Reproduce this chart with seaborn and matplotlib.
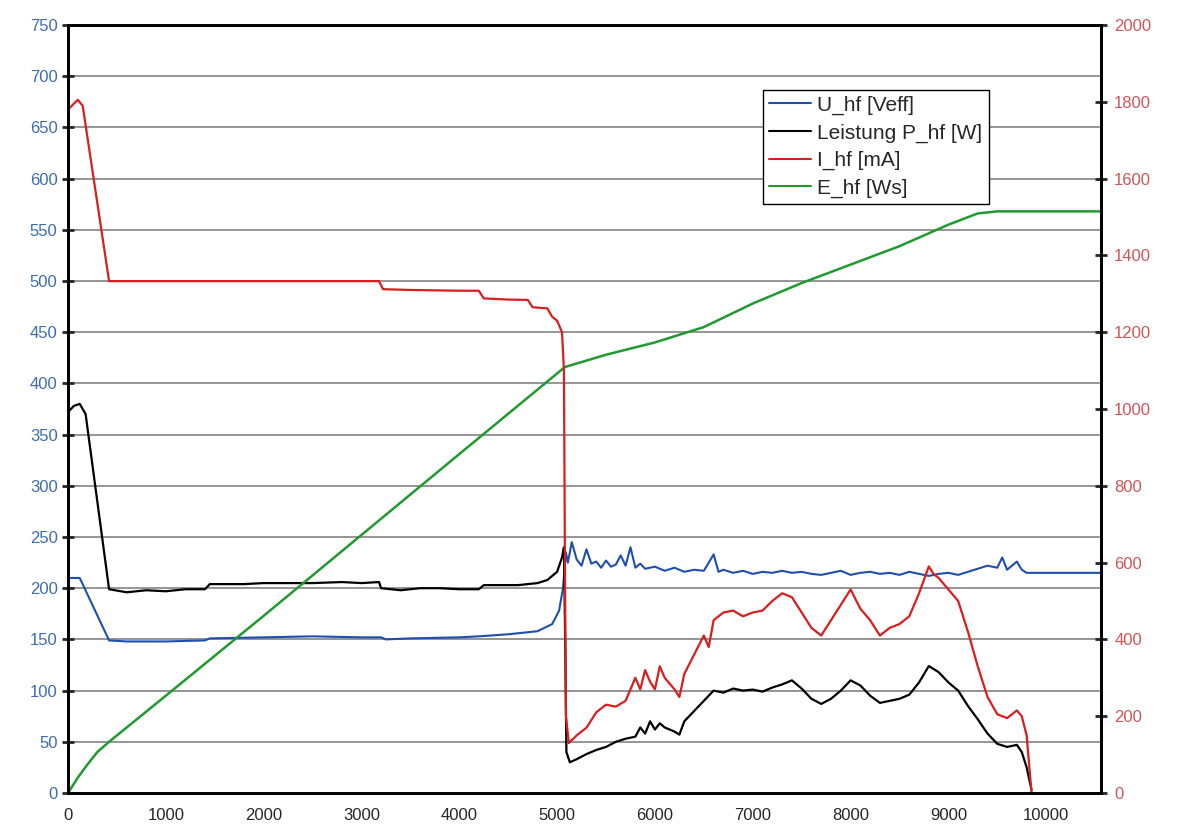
import numpy as np
import pandas as pd
import matplotlib
matplotlib.use("Agg")
import matplotlib.pyplot as plt
from matplotlib.ticker import MultipleLocator
import seaborn as sns

sns.set_style("white")
plt.rcParams['font.family'] = ['Liberation Sans', 'DejaVu Sans']

# ---------------- Daten ----------------
u_t = [0, 120, 420, 600, 1000, 1400, 1450, 2000, 2500, 3000, 3200, 3250, 3500, 4000, 4200,
       4500, 4800, 4950, 5020, 5060, 5090, 5110, 5150, 5200, 5250, 5300, 5350, 5400, 5450,
       5500, 5550, 5600, 5650, 5700, 5750, 5800, 5850, 5900, 6000, 6100, 6200, 6300, 6400,
       6500, 6600, 6650, 6700, 6800, 6900, 7000, 7100, 7200, 7300, 7400, 7500, 7600, 7700,
       7800, 7900, 8000, 8100, 8200, 8300, 8400, 8500, 8600, 8700, 8800, 8900, 9000, 9100,
       9200, 9300, 9400, 9500, 9550, 9600, 9700, 9750, 9800, 10000, 10560]
u_hf = [210, 210, 149, 148, 148, 149, 151, 152, 153, 152, 152, 150, 151, 152, 153,
        155, 158, 165, 178, 200, 235, 225, 245, 228, 222, 238, 224, 226, 220,
        227, 221, 223, 232, 222, 240, 220, 224, 219, 221, 217, 220, 216, 218,
        217, 233, 216, 218, 215, 217, 214, 216, 215, 217, 215, 216, 214, 213,
        215, 217, 213, 215, 216, 214, 215, 213, 216, 214, 212, 214, 215, 213,
        216, 219, 222, 220, 230, 218, 226, 218, 215, 215, 215]

p_t = [0, 60, 120, 180, 420, 600, 800, 1000, 1200, 1400, 1450, 1800, 2000, 2200, 2500,
       2800, 3000, 3180, 3200, 3400, 3600, 3800, 4000, 4200, 4250, 4400, 4600, 4800, 4900,
       5000, 5050, 5070, 5085, 5095, 5130, 5200, 5300, 5400, 5500, 5600, 5700, 5800, 5850,
       5900, 5950, 6000, 6050, 6100, 6200, 6250, 6300, 6400, 6500, 6600, 6700, 6800, 6900,
       7000, 7100, 7200, 7300, 7400, 7500, 7600, 7700, 7800, 7900, 8000, 8100, 8200, 8300,
       8400, 8500, 8600, 8700, 8800, 8900, 9000, 9100, 9200, 9300, 9400, 9500, 9600, 9700,
       9750, 9800, 9850]
p_hf = [372, 378, 380, 370, 199, 196, 198, 197, 199, 199, 204, 204, 205, 205, 205,
        206, 205, 206, 200, 198, 200, 200, 199, 199, 203, 203, 203, 205, 208,
        216, 230, 240, 130, 40, 30, 33, 38, 42, 45, 50, 53, 55, 64,
        58, 70, 62, 68, 64, 60, 57, 70, 80, 90, 100, 98, 102, 100,
        101, 99, 103, 106, 110, 102, 92, 87, 92, 100, 110, 105, 95, 88,
        90, 92, 96, 108, 124, 118, 108, 100, 85, 72, 58, 48, 45, 47,
        40, 25, 3]

i_t = [0, 40, 100, 150, 420, 600, 1000, 1500, 2000, 2500, 3000, 3180, 3220, 3500, 4000,
       4200, 4250, 4500, 4700, 4750, 4900, 4950, 5000, 5050, 5070, 5080, 5090, 5120, 5200,
       5300, 5400, 5500, 5600, 5700, 5800, 5850, 5900, 5950, 6000, 6050, 6100, 6200, 6250,
       6300, 6400, 6500, 6550, 6600, 6700, 6800, 6900, 7000, 7100, 7200, 7300, 7400, 7500,
       7600, 7700, 7800, 7900, 8000, 8100, 8200, 8300, 8400, 8500, 8600, 8700, 8800, 8850,
       8900, 9000, 9100, 9200, 9300, 9400, 9500, 9600, 9700, 9750, 9800, 9850]
i_hf = [1780, 1790, 1805, 1790, 1333, 1333, 1333, 1333, 1333, 1333, 1333, 1333, 1312, 1310, 1308,
        1308, 1288, 1285, 1284, 1265, 1262, 1240, 1230, 1200, 1100, 600, 200, 130, 150,
        170, 210, 230, 225, 240, 300, 270, 320, 290, 270, 330, 300, 270, 250,
        310, 360, 410, 380, 450, 470, 475, 460, 470, 475, 500, 520, 510, 470,
        430, 410, 450, 490, 530, 480, 450, 410, 430, 440, 460, 520, 590, 570,
        560, 530, 500, 420, 330, 250, 205, 195, 215, 200, 150, 0]

e_t = [0, 100, 200, 300, 420, 1000, 2000, 3000, 4000, 5080, 5500, 6000, 6500, 7000, 7500,
       8000, 8500, 9000, 9300, 9500, 10560]
e_hf = [0, 15, 28, 40, 50, 95, 173, 252, 331, 416, 428, 440, 455, 478, 498,
        516, 534, 555, 566, 568, 568]

df_u = pd.DataFrame({"t": u_t, "v": u_hf})
df_p = pd.DataFrame({"t": p_t, "v": p_hf})
df_i = pd.DataFrame({"t": i_t, "v": i_hf})
df_e = pd.DataFrame({"t": e_t, "v": e_hf})

fig = plt.figure(figsize=(11.77, 8.39), dpi=100, facecolor='white')
ax = fig.add_axes([68/1177, 1-793/839, (1101-68)/1177, (793-25)/839])
ax2 = ax.twinx()

# Gitterlinien
for yv in range(50, 750, 50):
    ax.axhline(yv, color='#8c8c8c', lw=1.3, zorder=0)

c_u, c_p, c_i, c_e = '#1f4fae', '#000000', '#d81e1e', '#1f9a2e'

sns.lineplot(data=df_u, x="t", y="v", ax=ax, color=c_u, lw=1.5, estimator=None, sort=False)
sns.lineplot(data=df_p, x="t", y="v", ax=ax, color=c_p, lw=1.6, estimator=None, sort=False)
sns.lineplot(data=df_e, x="t", y="v", ax=ax, color=c_e, lw=1.8, estimator=None, sort=False)
sns.lineplot(data=df_i, x="t", y="v", ax=ax2, color=c_i, lw=1.6, estimator=None, sort=False)

ax.set_xlim(0, 10560)
ax.set_ylim(0, 750)
ax2.set_ylim(0, 2000)
ax.set_xlabel("")
ax.set_ylabel("")
ax2.set_ylabel("")

ax.yaxis.set_major_locator(MultipleLocator(50))
ax2.yaxis.set_major_locator(MultipleLocator(200))
ax.xaxis.set_major_locator(MultipleLocator(1000))
ax.xaxis.set_minor_locator(MultipleLocator(200))

for a in (ax, ax2):
    for s in a.spines.values():
        s.set_color('black')
        s.set_linewidth(2)

ax.tick_params(axis='y', direction='inout', length=9, width=2, labelsize=12,
               labelcolor='#3b6db0', pad=3)
ax.tick_params(axis='x', which='both', direction='inout', length=10, width=2,
               labelsize=12, pad=6)
ax2.tick_params(axis='y', direction='inout', length=9, width=2, labelsize=12,
                labelcolor='#cf5555', pad=5)

# Legende
handles = [plt.Line2D([], [], color=c_u, lw=1.5),
           plt.Line2D([], [], color=c_p, lw=1.5),
           plt.Line2D([], [], color=c_i, lw=1.5),
           plt.Line2D([], [], color=c_e, lw=1.5)]
labels = ["U_hf [Veff]", "Leistung P_hf [W]", "I_hf [mA]", "E_hf [Ws]"]
leg = ax2.legend(handles, labels, loc='upper left', bbox_to_anchor=(0.673, 0.916),
                 fontsize=15, frameon=True, fancybox=False, framealpha=1,
                 edgecolor='black', handlelength=2.0, handletextpad=0.3,
                 labelspacing=0.4, borderpad=0.3, borderaxespad=0)
leg.get_frame().set_linewidth(1.0)

fig.savefig("out.png", dpi=100, facecolor='white')
